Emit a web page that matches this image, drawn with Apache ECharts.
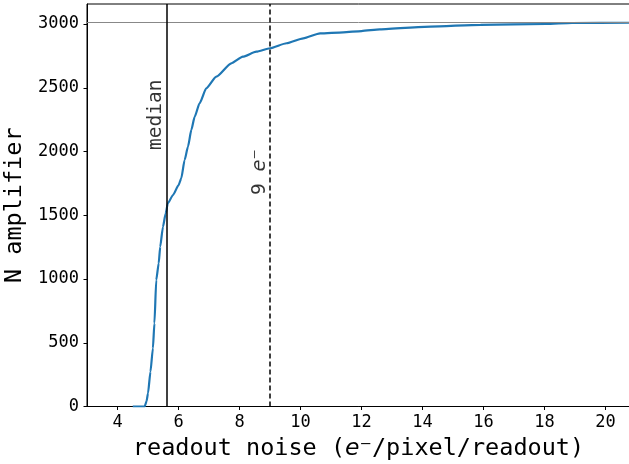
<!DOCTYPE html>
<html>
<head>
<meta charset="utf-8">
<script src="https://cdn.jsdelivr.net/npm/echarts@6/dist/echarts.min.js"></script>
<style>
  html, body {margin: 0; padding: 0; background: #fff;}
  #chart {width: 629px; height: 464px;}
</style>
</head>
<body>
<div id="chart"></div>
<script>
// cumulative count of amplifiers vs readout noise
const noiseX = [4.50, 4.89, 4.95, 5.00, 5.08, 5.16, 5.21, 5.27, 5.35, 5.40, 5.49, 5.58, 5.65, 5.82,
  6.00, 6.09, 6.20, 6.31, 6.42, 6.53, 6.69, 6.91, 7.24, 7.73, 8.11, 8.55, 9.00, 9.54, 10.09, 10.64,
  11.40, 12.00, 12.60, 14.26, 15.90, 18.04, 18.90, 20.80];
const countY = [0, 0, 40, 104, 273, 456, 652, 992, 1123, 1253, 1410, 1515, 1594, 1659,
  1735, 1790, 1933, 2038, 2169, 2273, 2378, 2496, 2587, 2692, 2744, 2783, 2810, 2849, 2888, 2927,
  2935, 2945, 2958, 2980, 2994, 3000, 3008, 3010];
const totalN = 3010;       // horizontal gray line
const medianNoise = 5.6;   // solid vertical line
const limitNoise = 9;      // dashed vertical line
const xTicks = [4, 6, 8, 10, 12, 14, 16, 18, 20];
const yTicks = [0, 500, 1000, 1500, 2000, 2500, 3000];

const MONO = 'DejaVu Sans Mono';
const chart = echarts.init(document.getElementById('chart'));

const curve = noiseX.map((x, i) => [x, countY[i]]);

chart.setOption({
  animation: false,
  grid: {left: 87, top: 4, right: -1, bottom: 57.5, show: true, borderColor: '#000', borderWidth: 1,
    containLabel: false, outerBoundsMode: 'none'},
  xAxis: {
    type: 'value', min: 3, max: 20.8, interval: 1,
    name: '{a|readout noise (}{i|e}{s|⁻}{a|/pixel/readout)}',
    nameLocation: 'middle', nameGap: 26,
    nameTextStyle: {
      rich: {
        a: {fontFamily: MONO, fontSize: 23.5, color: '#000'},
        i: {fontFamily: 'DejaVu Sans', fontStyle: 'italic', fontSize: 23.5, color: '#000'},
        s: {fontFamily: 'DejaVu Sans', fontSize: 23.5, color: '#000'}
      }
    },
    axisLine: {show: true, lineStyle: {color: '#000', width: 1}},
    axisTick: {show: true, inside: false, length: 3.5, lineStyle: {color: '#000'},
      customValues: xTicks},
    axisLabel: {fontFamily: MONO, fontSize: 17, color: '#000', margin: 8,
      customValues: xTicks, formatter: v => String(v)},
    splitLine: {show: false}
  },
  yAxis: {
    type: 'value', min: 0, max: 3157, interval: 500,
    name: 'N amplifier', nameLocation: 'middle', nameGap: 54,
    nameTextStyle: {fontFamily: MONO, fontSize: 23.5, color: '#000'},
    axisLine: {show: true, lineStyle: {color: '#000', width: 1}},
    axisTick: {show: true, inside: false, length: 3.5, lineStyle: {color: '#000'},
      customValues: yTicks},
    axisLabel: {fontFamily: MONO, fontSize: 17, color: '#000', margin: 8,
      customValues: yTicks, formatter: v => String(v)},
    splitLine: {show: false}
  },
  series: [
    {
      type: 'line', data: curve, showSymbol: false, z: 3,
      smooth: 0.2, smoothMonotone: 'x',
      lineStyle: {color: '#1f77b4', width: 2.2},
      markLine: {
        silent: true, symbol: 'none', label: {show: false},
        data: [
          {yAxis: totalN, lineStyle: {color: '#888', width: 1, type: 'solid'}},
          {xAxis: medianNoise, lineStyle: {color: '#000', width: 1.5, type: 'solid'}},
          {xAxis: limitNoise, lineStyle: {color: '#000', width: 1.5, type: [5, 3]}}
        ]
      }
    },
    {
      type: 'scatter', symbolSize: 0, silent: true, z: 4,
      data: [[medianNoise, 2012]],
      label: {
        show: true, position: 'inside', rotate: 90, align: 'left', verticalAlign: 'bottom',
        formatter: 'median', fontFamily: MONO, fontSize: 19.5, color: '#000'
      }
    },
    {
      type: 'scatter', symbolSize: 0, silent: true, z: 4,
      data: [[limitNoise, 1659]],
      label: {
        show: true, position: 'inside', rotate: 90, align: 'left', verticalAlign: 'bottom',
        formatter: '{n|9 }{i|e}{s|⁻}',
        rich: {
          n: {fontFamily: MONO, fontSize: 19.5, color: '#000'},
          i: {fontFamily: 'DejaVu Sans', fontStyle: 'italic', fontSize: 19.5, color: '#000'},
          s: {fontFamily: 'DejaVu Sans', fontSize: 19.5, color: '#000'}
        }
      }
    }
  ]
});
</script>
</body>
</html>
